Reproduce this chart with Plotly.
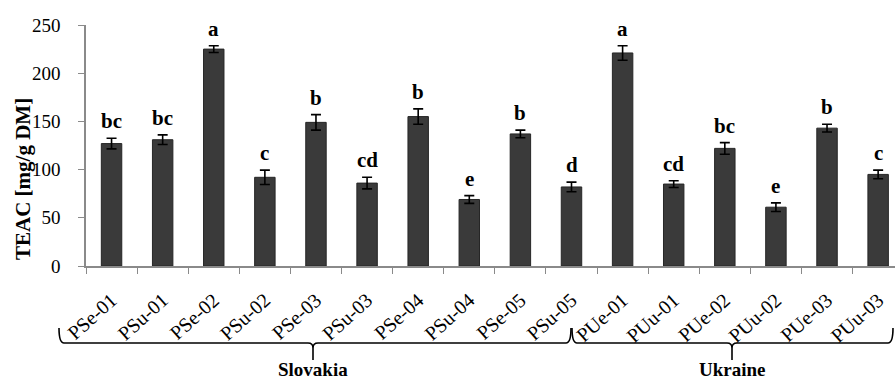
import plotly.graph_objects as go

categories = ["PSe-01", "PSu-01", "PSe-02", "PSu-02", "PSe-03", "PSu-03", "PSe-04", "PSu-04",
              "PSe-05", "PSu-05", "PUe-01", "PUu-01", "PUe-02", "PUu-02", "PUe-03", "PUu-03"]
teac = [127, 131, 225, 92, 149, 86, 155, 69, 137, 82, 221, 85, 122, 61, 143, 95]
teac_sd = [5.5, 5, 3.5, 7.5, 8, 6, 8, 4, 4, 5, 7.5, 3.5, 6, 4.5, 4, 4.5]
letters = ["bc", "bc", "a", "c", "b", "cd", "b", "e", "b", "d", "a", "cd", "bc", "e", "b", "c"]
groups = ["Slovakia", "Ukraine"]
y_ticks = [0, 50, 100, 150, 200, 250]

W, H = 895, 383
ML, MR, MT, MB = 86, 0, 25, 117
XR = [-0.5, 15.33]
FONT = "Liberation Serif, Times New Roman, serif"

def px(x):  # pixel -> paper x
    return (x - ML) / (W - ML - MR)

def py(y):  # pixel -> paper y
    return (H - MB - y) / (H - MT - MB)

fig = go.Figure()
fig.add_trace(go.Bar(
    x=categories, y=teac,
    marker=dict(color="#3a3a3a", line=dict(color="#262626", width=1)),
    error_y=dict(type="data", array=teac_sd, visible=True, color="#000000",
                 thickness=1.6, width=5),
    width=0.4,
    showlegend=False,
))

for c, v, e, t in zip(categories, teac, teac_sd, letters):
    fig.add_annotation(x=c, y=v + e, text=f"<b>{t}</b>", showarrow=False,
                       xanchor="center", yanchor="bottom", yshift=3,
                       font=dict(family=FONT, size=21, color="#000000"))

# braces under the category labels
def brace(x0, xm, x1, y_top, y_line, y_tip, r=5):
    return (f"M {px(x0)},{py(y_top)} Q {px(x0)},{py(y_line)} {px(x0 + r)},{py(y_line)} "
            f"L {px(xm - r)},{py(y_line)} Q {px(xm)},{py(y_line)} {px(xm)},{py(y_line + r)} "
            f"L {px(xm)},{py(y_tip)} M {px(xm)},{py(y_line + r)} "
            f"Q {px(xm)},{py(y_line)} {px(xm + r)},{py(y_line)} "
            f"L {px(x1 - r)},{py(y_line)} Q {px(x1)},{py(y_line)} {px(x1)},{py(y_top)}")

brace_specs = [(59, 313, 571), (572, 732, 893)]
for (x0, xm, x1), g in zip(brace_specs, groups):
    fig.add_shape(type="path", xref="paper", yref="paper",
                  path=brace(x0, xm, x1, 328, 343, 360),
                  line=dict(color="#000000", width=1.6))
    fig.add_annotation(xref="paper", yref="paper", x=px(xm), y=py(382),
                       text=f"<b>{g}</b>", showarrow=False,
                       xanchor="center", yanchor="bottom",
                       font=dict(family=FONT, size=19, color="#000000"))

fig.add_annotation(xref="paper", yref="paper", x=px(23), y=py(179),
                   text="<b>TEAC [mg/g DM]</b>", showarrow=False, textangle=-90,
                   xanchor="center", yanchor="middle",
                   font=dict(family=FONT, size=21, color="#000000"))

fig.update_layout(
    width=W, height=H,
    margin=dict(l=ML, r=MR, t=MT, b=MB, autoexpand=False),
    paper_bgcolor="#ffffff", plot_bgcolor="#ffffff",
    font=dict(family=FONT, color="#000000"),
    bargap=0.6,
)
fig.update_xaxes(
    type="category", range=XR, tickson="boundaries", ticks="outside", ticklen=6,
    tickcolor="#8a8a8a", tickwidth=1.3, showline=True, linecolor="#8a8a8a", linewidth=1.5,
    showgrid=False, tickangle=-42, tickfont=dict(family=FONT, size=20, color="#000000"),
    ticklabelstandoff=13, automargin=False,
)
fig.update_yaxes(
    range=[0, 250], tickvals=y_ticks, ticks="outside", ticklen=6, tickcolor="#8a8a8a",
    tickwidth=1.3, showline=True, linecolor="#8a8a8a", linewidth=1.5, showgrid=False,
    zeroline=False, tickfont=dict(family=FONT, size=19, color="#000000"),
    ticklabelstandoff=14, automargin=False,
)

fig.write_html("out.html", config={"displayModeBar": False},
               post_script="document.body.style.margin='0';document.body.style.overflow='hidden';")
